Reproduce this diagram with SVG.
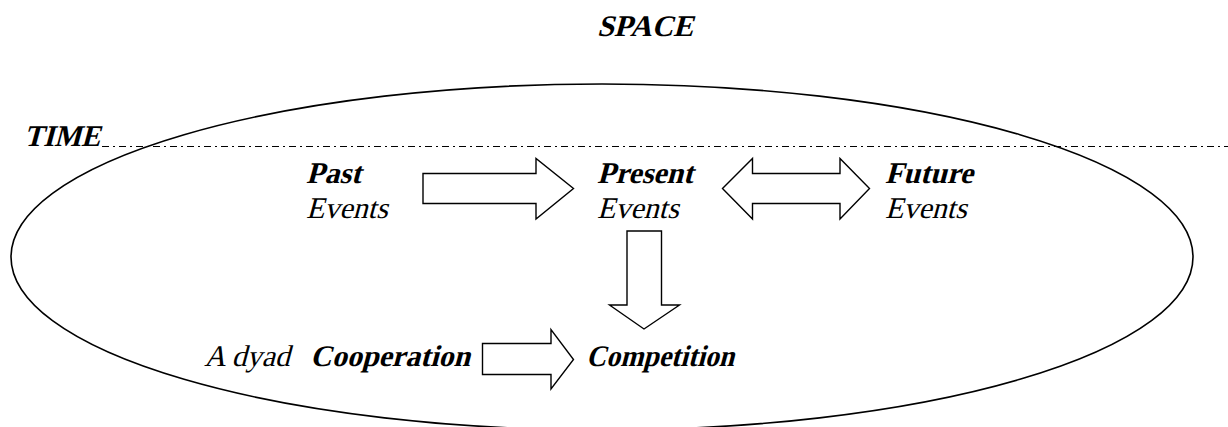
<svg xmlns="http://www.w3.org/2000/svg" width="1228" height="427" viewBox="0 0 1228 427">
<style>
text{font-family:'Liberation Serif','Times New Roman',serif;font-style:normal;font-size:30px;fill:#000}
.b{font-weight:bold}
.arrow{fill:#fff;stroke:#000;stroke-width:1.4;stroke-linejoin:miter}
</style>
<rect width="1228" height="427" fill="#fff"/>
<g id="space">
<ellipse cx="602" cy="257" rx="591" ry="173" fill="none" stroke="#000" stroke-width="1.6"/>
<text class="b" transform="translate(597,36) skewX(-15)">SPACE</text>
</g>
<g id="time">
<line x1="102" y1="146.5" x2="1228" y2="146.5" stroke="#000" stroke-width="1" stroke-dasharray="7 4 2 4"/>
<text class="b" transform="translate(24,146) skewX(-15)" textLength="76" lengthAdjust="spacingAndGlyphs">TIME</text>
</g>
<g id="past">
<text class="b" transform="translate(306,183) skewX(-15)">Past</text>
<text transform="translate(306,218) skewX(-15)">Events</text>
</g>
<g id="present">
<text class="b" transform="translate(597,183) skewX(-15)">Present</text>
<text transform="translate(597,218) skewX(-15)">Events</text>
</g>
<g id="future">
<text class="b" transform="translate(885,183) skewX(-15)">Future</text>
<text transform="translate(885,218) skewX(-15)">Events</text>
</g>
<g id="dyad">
<text transform="translate(204,366) skewX(-15)">A dyad</text>
<text class="b" transform="translate(310,366) skewX(-15)">Cooperation</text>
</g>
<g id="competition">
<text class="b" transform="translate(586,366) skewX(-15)" textLength="148" lengthAdjust="spacingAndGlyphs">Competition</text>
</g>
<g id="connectors">
<polygon class="arrow" points="423,173.5 536,173.5 536,158.5 573.5,188.5 536,219 536,203.5 423,203.5"/>
<polygon class="arrow" points="722.5,188.5 752.5,158.5 752.5,173.5 840,173.5 840,158.5 869.5,188.5 840,219 840,203.5 752.5,203.5 752.5,219"/>
<polygon class="arrow" points="627,231 661.5,231 661.5,305 679.5,305 644,329 609.5,305 627,305"/>
<polygon class="arrow" points="482.5,343.5 551,343.5 551,329.5 573.5,359.5 551,389 551,374.5 482.5,374.5"/>
</g>
</svg>
